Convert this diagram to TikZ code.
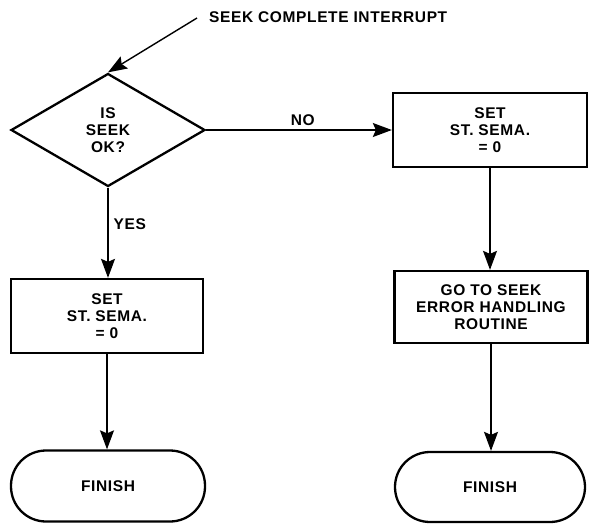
\documentclass[tikz,border=0pt]{standalone}
\usepackage{fontspec}
\setmainfont{Liberation Sans}[LetterSpace=4]
\usetikzlibrary{shapes.geometric,arrows.meta}
\begin{document}
\begin{tikzpicture}[x=1pt,y=-1pt,
  every node/.style={font=\bfseries\fontsize{15.5}{16.8}\selectfont, align=center, inner sep=0pt},
  shp/.style={draw, line width=2.3pt},
  dec/.style={shp, diamond, minimum width=194pt, minimum height=113pt, aspect=1.717},
  procbox/.style={shp, rectangle, minimum width=194pt, minimum height=74pt},
  term/.style={shp, rectangle, rounded corners=35pt, minimum width=194pt, minimum height=71pt},
  conn/.style={line width=1.4pt, -{Stealth[length=19pt,width=14pt,inset=3pt]}},
  lbl/.style={font=\bfseries\fontsize{15.5}{16.8}\selectfont}
]
\useasboundingbox (0,0) rectangle (589,523);
\node[anchor=west] (title) at (209,17) {SEEK COMPLETE INTERRUPT};
\coordinate (src) at (197,18);
\node[dec] (d) at (108,130) {IS\\SEEK\\OK?};
\node[procbox, minimum width=192pt] (l1) at (107,316) {SET\\ST. SEMA.\\= 0};
\node[term] (l2) at (108,486) {FINISH};
\node[procbox] (r1) at (490,130) {SET\\ST. SEMA.\\= 0};
\node[procbox, minimum width=193pt, minimum height=72pt] (r2) at (491,307) {GO TO SEEK\\ERROR HANDLING\\ROUTINE};
\node[term, minimum width=190pt, minimum height=70pt] (r3) at (490,487) {FINISH};

\draw[conn] (src) -- (d.north);
\draw[conn] (d.east) -- node[lbl, above=4pt, pos=0.52] {NO} (r1.west);
\draw[conn] (d.south) -- node[lbl, right=5pt, pos=0.4] {YES} (d.south |- l1.north);
\draw[conn] (l1.south) -- (l1.south |- l2.north);
\draw[conn] (r1.south) -- (r1.south |- r2.north);
\draw[conn] (r2.south) -- (r2.south |- r3.north);
\end{tikzpicture}
\end{document}
